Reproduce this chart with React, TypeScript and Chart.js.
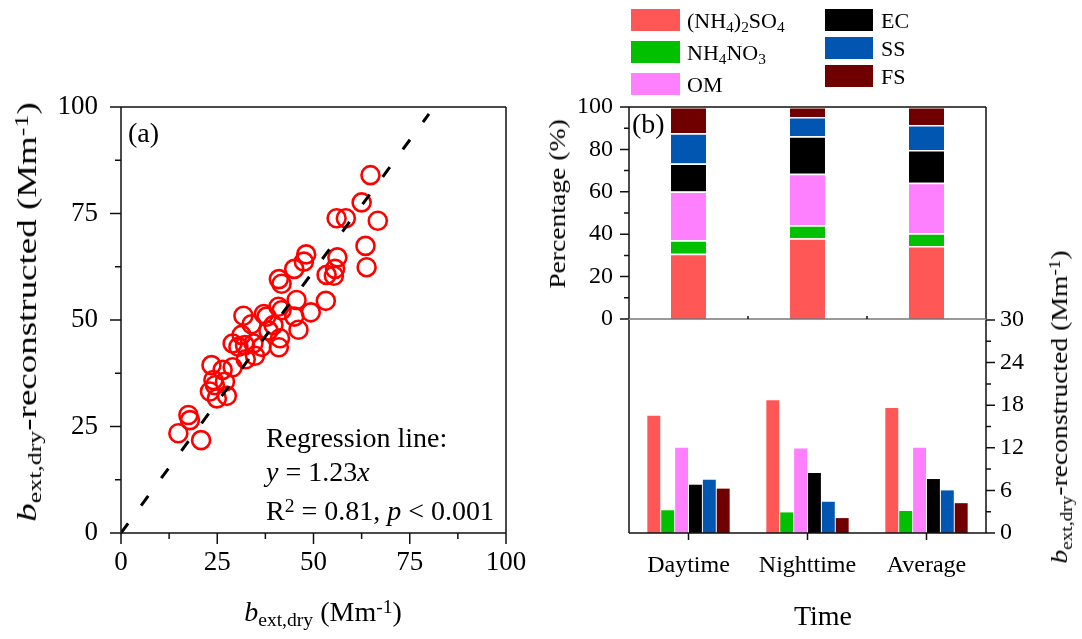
import React, { useEffect, useRef } from "react";
import { Chart, registerables } from "chart.js";
Chart.register(...registerables);

const FONT = "'Liberation Serif', 'Times New Roman', serif";

// ---------- Panel (a): scatter ----------
const measuredExt = [64.8, 62.5, 56.0, 58.4, 66.7, 63.5, 63.8, 48.1, 47.5, 45.0, 56.2, 55.6, 53.4, 55.3, 41.0, 41.7, 53.2, 45.6, 40.9, 41.7, 49.3, 45.0, 31.8, 37.1, 37.8, 33.9, 39.6, 38.3, 46.1, 31.3, 41.3, 29.0, 30.5, 32.2, 34.4, 36.5, 41.0, 32.4, 34.8, 29.0, 23.5, 26.4, 27.0, 24.0, 24.4, 23.1, 27.5, 24.9, 17.5, 17.9, 14.9, 20.8];
const reconstructedExt = [84.0, 77.6, 73.9, 73.9, 73.3, 67.4, 62.4, 65.4, 63.7, 62.0, 64.7, 62.0, 60.6, 60.4, 59.6, 58.5, 54.5, 54.7, 53.1, 52.3, 51.8, 50.8, 51.0, 51.4, 50.8, 49.0, 48.8, 47.5, 47.7, 46.5, 45.7, 44.5, 43.7, 44.1, 44.5, 43.7, 43.6, 40.8, 41.6, 38.9, 39.4, 38.3, 35.5, 35.9, 34.7, 33.2, 32.2, 31.6, 27.7, 26.5, 23.4, 21.8];
const regressionX = [0, 80];
const regressionY = [0, 98.4];
const aMajorTicks = [0, 25, 50, 75, 100];
const aMinorTicks = [12.5, 37.5, 62.5, 87.5];

// ---------- Panel (b) ----------
const timeCategories = ["Daytime", "Nighttime", "Average"];
const speciesColors = ["#FF5656", "#00C000", "#FF80FF", "#000000", "#0056B0", "#700000"];
const pctAS = [30.8, 38.1, 34.4];
const pctAN = [6.3, 6.1, 6.0];
const pctOM = [23.1, 24.3, 23.9];
const pctEC = [13.2, 17.7, 15.4];
const pctSS = [14.2, 9.1, 11.8];
const pctFS = [12.4, 4.7, 8.5];
const extAS = [16.5, 18.7, 17.6];
const extAN = [3.2, 2.9, 3.1];
const extOM = [12.0, 11.9, 12.0];
const extEC = [6.8, 8.45, 7.6];
const extSS = [7.5, 4.4, 6.0];
const extFS = [6.25, 2.1, 4.2];
const pctMajorTicks = [0, 20, 40, 60, 80, 100];
const pctMinorTicks = [10, 30, 50, 70, 90];
const extMajorTicks = [0, 6, 12, 18, 24, 30];
const extMinorTicks = [3, 9, 15, 21, 27];
const categoryCenters = [0, 1, 2];
const categoryBounds = [0.5, 1.5];

type TickSpec = { axis: string; values: number[]; len: number; side: "left" | "right" | "down" | "up" };
type Frame = { left?: boolean; right?: boolean; top?: boolean; bottom?: boolean; bottomColor?: string };

function decorPlugin(ticks: TickSpec[], frame: Frame) {
  return {
    id: "decor",
    afterDraw(chart: any) {
      const ctx = chart.ctx;
      const a = chart.chartArea;
      ctx.save();
      ctx.lineWidth = 1.5;
      ctx.lineCap = "butt";
      ctx.strokeStyle = "#111";
      ctx.beginPath();
      if (frame.left) { ctx.moveTo(a.left, a.top); ctx.lineTo(a.left, a.bottom); }
      if (frame.right) { ctx.moveTo(a.right, a.top); ctx.lineTo(a.right, a.bottom); }
      if (frame.top) { ctx.moveTo(a.left, a.top); ctx.lineTo(a.right, a.top); }
      if (frame.bottom && !frame.bottomColor) { ctx.moveTo(a.left, a.bottom); ctx.lineTo(a.right, a.bottom); }
      ctx.stroke();
      if (frame.bottom && frame.bottomColor) {
        ctx.strokeStyle = frame.bottomColor;
        ctx.beginPath();
        ctx.moveTo(a.left, a.bottom);
        ctx.lineTo(a.right, a.bottom);
        ctx.stroke();
        ctx.strokeStyle = "#111";
      }
      for (const t of ticks) {
        const s = chart.scales[t.axis];
        ctx.beginPath();
        for (const v of t.values) {
          const p = s.getPixelForValue(v);
          if (t.side === "left") { ctx.moveTo(a.left, p); ctx.lineTo(a.left - t.len, p); }
          if (t.side === "right") { ctx.moveTo(a.right, p); ctx.lineTo(a.right + t.len, p); }
          if (t.side === "down") { ctx.moveTo(p, a.bottom); ctx.lineTo(p, a.bottom + t.len); }
          if (t.side === "up") { ctx.moveTo(p, a.bottom); ctx.lineTo(p, a.bottom - t.len); }
        }
        ctx.stroke();
      }
      ctx.restore();
    },
  };
}

function fixSize(w?: number, h?: number) {
  return (s: any) => {
    if (w !== undefined) s.width = w;
    if (h !== undefined) s.height = h;
    s.paddingTop = 0;
    s.paddingBottom = 0;
    s.paddingLeft = 0;
    s.paddingRight = 0;
  };
}

function useChart(ref: React.RefObject<HTMLCanvasElement>, make: () => any) {
  useEffect(() => {
    if (!ref.current) return;
    const chart = new Chart(ref.current, make());
    return () => chart.destroy();
  }, []);
}

const Sub = ({ children }: { children: React.ReactNode }) => (
  <span style={{ fontSize: "0.7em", position: "relative", top: "0.28em" }}>{children}</span>
);
const Sup = ({ children }: { children: React.ReactNode }) => (
  <span style={{ fontSize: "0.7em", position: "relative", top: "-0.42em" }}>{children}</span>
);

const BTitle = () => (
  <>
    <i>b</i>
    <Sub>ext,dry</Sub>
  </>
);

export default function App() {
  const scatterRef = useRef<HTMLCanvasElement>(null);
  const stackRef = useRef<HTMLCanvasElement>(null);
  const groupRef = useRef<HTMLCanvasElement>(null);

  useChart(scatterRef, () => ({
    type: "scatter",
    data: {
      datasets: [
        {
          type: "line",
          data: regressionX.map((x, i) => ({ x, y: regressionY[i] })),
          borderColor: "#000",
          borderWidth: 3,
          borderDash: [12, 22],
          pointRadius: 0,
          fill: false,
        },
        {
          data: measuredExt.map((x, i) => ({ x, y: reconstructedExt[i] })),
          pointStyle: "circle",
          pointRadius: 9,
          borderWidth: 2.6,
          borderColor: "#FF0000",
          backgroundColor: "rgba(0,0,0,0)",
        },
      ],
    },
    options: {
      animation: false,
      responsive: false,
      devicePixelRatio: 1,
      layout: { padding: { top: 107, right: 34, left: 0, bottom: 0 } },
      plugins: { legend: { display: false }, tooltip: { enabled: false } },
      scales: {
        x: {
          type: "linear", min: 0, max: 100,
          afterFit: fixSize(undefined, 106),
          grid: { display: false, drawTicks: false },
          border: { display: false },
          ticks: { stepSize: 25, padding: 14, color: "#000", font: { family: FONT, size: 27 } },
        },
        y: {
          type: "linear", min: 0, max: 100,
          afterFit: fixSize(121, undefined),
          grid: { display: false, drawTicks: false },
          border: { display: false },
          ticks: { stepSize: 25, padding: 23, color: "#000", font: { family: FONT, size: 27 } },
        },
      },
    },
    plugins: [
      decorPlugin(
        [
          { axis: "x", values: aMajorTicks, len: 11, side: "down" },
          { axis: "x", values: aMinorTicks, len: 6, side: "down" },
          { axis: "y", values: aMajorTicks, len: 11, side: "left" },
          { axis: "y", values: aMinorTicks, len: 6, side: "left" },
        ],
        { left: true, right: true, top: true, bottom: true }
      ),
    ],
  }));

  const pctSeries = [pctAS, pctAN, pctOM, pctEC, pctSS, pctFS];
  const extSeries = [extAS, extAN, extOM, extEC, extSS, extFS];

  useChart(stackRef, () => ({
    type: "bar",
    data: {
      labels: timeCategories,
      datasets: pctSeries.map((d, i) => ({
        data: d,
        backgroundColor: speciesColors[i],
        borderColor: "#ffffff",
        borderWidth: { top: 1.5, bottom: 0, left: 0, right: 0 },
        borderSkipped: false,
        barPercentage: 0.294,
        categoryPercentage: 1,
      })),
    },
    options: {
      animation: false,
      responsive: false,
      devicePixelRatio: 1,
      layout: { padding: { top: 107, right: 96, left: 0, bottom: 11 } },
      plugins: { legend: { display: false }, tooltip: { enabled: false } },
      scales: {
        x: { stacked: true, display: false, afterFit: fixSize(undefined, 0) },
        y: {
          stacked: true, min: 0, max: 100,
          afterFit: fixSize(89, undefined),
          grid: { display: false, drawTicks: false },
          border: { display: false },
          ticks: { stepSize: 20, padding: 16, color: "#000", font: { family: FONT, size: 24 } },
        },
      },
    },
    plugins: [
      decorPlugin(
        [
          { axis: "y", values: pctMajorTicks, len: 9, side: "left" },
          { axis: "y", values: pctMinorTicks, len: 5, side: "left" },
          { axis: "x", values: categoryBounds, len: 3, side: "up" },
        ],
        { left: true, right: true, top: true, bottom: true, bottomColor: "#777" }
      ),
    ],
  }));

  useChart(groupRef, () => ({
    type: "bar",
    data: {
      labels: timeCategories,
      datasets: extSeries.map((d, i) => ({
        data: d,
        backgroundColor: speciesColors[i],
        borderWidth: 0,
        barPercentage: 0.93,
        categoryPercentage: 0.7,
      })),
    },
    options: {
      animation: false,
      responsive: false,
      devicePixelRatio: 1,
      layout: { padding: { top: 10, right: 0, left: 89, bottom: 0 } },
      plugins: { legend: { display: false }, tooltip: { enabled: false } },
      scales: {
        x: {
          afterFit: fixSize(undefined, 106),
          grid: { display: false, drawTicks: false },
          border: { display: false },
          ticks: { padding: 18, color: "#000", font: { family: FONT, size: 24 } },
        },
        y: {
          position: "right", min: 0, max: 30,
          afterFit: fixSize(96, undefined),
          grid: { display: false, drawTicks: false },
          border: { display: false },
          ticks: { stepSize: 6, padding: 14, color: "#000", font: { family: FONT, size: 24 } },
        },
      },
    },
    plugins: [
      decorPlugin(
        [
          { axis: "y", values: extMajorTicks, len: 9, side: "right" },
          { axis: "y", values: extMinorTicks, len: 5, side: "right" },
          { axis: "x", values: categoryCenters, len: 7, side: "down" },
        ],
        { left: true, right: true, bottom: true }
      ),
    ],
  }));

  const abs = (s: React.CSSProperties): React.CSSProperties => ({
    position: "absolute", whiteSpace: "nowrap", fontFamily: FONT, color: "#000", lineHeight: 1, ...s,
  });

  const legendCol1 = [
    { c: speciesColors[0], top: 8.5, label: <>(NH<Sub>4</Sub>)<Sub>2</Sub>SO<Sub>4</Sub></> },
    { c: speciesColors[1], top: 41, label: <>NH<Sub>4</Sub>NO<Sub>3</Sub></> },
    { c: speciesColors[2], top: 73, label: <>OM</> },
  ];
  const legendCol2 = [
    { c: speciesColors[3], top: 9, label: <>EC</> },
    { c: speciesColors[4], top: 36.5, label: <>SS</> },
    { c: speciesColors[5], top: 65, label: <>FS</> },
  ];

  return (
    <div style={{ position: "absolute", left: 0, top: 0, width: 1082, height: 639, background: "#fff", overflow: "hidden" }}>
      <canvas ref={scatterRef} width={540} height={639} style={{ position: "absolute", left: 0, top: 0, width: 540, height: 639 }} />
      <canvas ref={stackRef} width={542} height={330} style={{ position: "absolute", left: 540, top: 0, width: 542, height: 330 }} />
      <canvas ref={groupRef} width={542} height={329} style={{ position: "absolute", left: 540, top: 310, width: 542, height: 329 }} />

      {/* Panel (a) texts */}
      <div style={abs({ left: 128, top: 119, fontSize: 28 })}>(a)</div>
      <div style={abs({ left: 266, top: 424, fontSize: 28 })}>Regression line:</div>
      <div style={abs({ left: 266, top: 458, fontSize: 28 })}><i>y</i> = 1.23<i>x</i></div>
      <div style={abs({ left: 266, top: 497, fontSize: 28 })}>R<Sup>2</Sup> = 0.81, <i>p</i> &lt; 0.001</div>
      <div style={abs({ left: 323, top: 598, fontSize: 28, transform: "translateX(-50%)" })}>
        <BTitle /> (Mm<Sup>-1</Sup>)
      </div>
      <div style={abs({ left: 27, top: 312, fontSize: 28, transform: "translate(-50%,-50%) rotate(-90deg) scaleX(1.32)" })}>
        <BTitle />-reconstructed (Mm<Sup>-1</Sup>)
      </div>

      {/* Panel (b) texts */}
      <div style={abs({ left: 632, top: 110, fontSize: 28 })}>(b)</div>
      <div style={abs({ left: 557, top: 204, fontSize: 24, transform: "translate(-50%,-50%) rotate(-90deg) scaleX(1.15)" })}>
        Percentage (%)
      </div>
      <div style={abs({ left: 1059, top: 407, fontSize: 24, transform: "translate(-50%,-50%) rotate(-90deg) scaleX(1.15)" })}>
        <BTitle />-reconstructed (Mm<Sup>-1</Sup>)
      </div>
      <div style={abs({ left: 823, top: 602, fontSize: 28, transform: "translateX(-50%)" })}>Time</div>

      {/* Legend */}
      {legendCol1.map((l, i) => (
        <React.Fragment key={"l1" + i}>
          <div style={{ position: "absolute", left: 631, top: l.top, width: 49, height: 22, background: l.c }} />
          <div style={abs({ left: 687, top: l.top + 1, fontSize: 22 })}>{l.label}</div>
        </React.Fragment>
      ))}
      {legendCol2.map((l, i) => (
        <React.Fragment key={"l2" + i}>
          <div style={{ position: "absolute", left: 825, top: l.top, width: 48, height: 22, background: l.c }} />
          <div style={abs({ left: 881, top: l.top + 1, fontSize: 22 })}>{l.label}</div>
        </React.Fragment>
      ))}
    </div>
  );
}
